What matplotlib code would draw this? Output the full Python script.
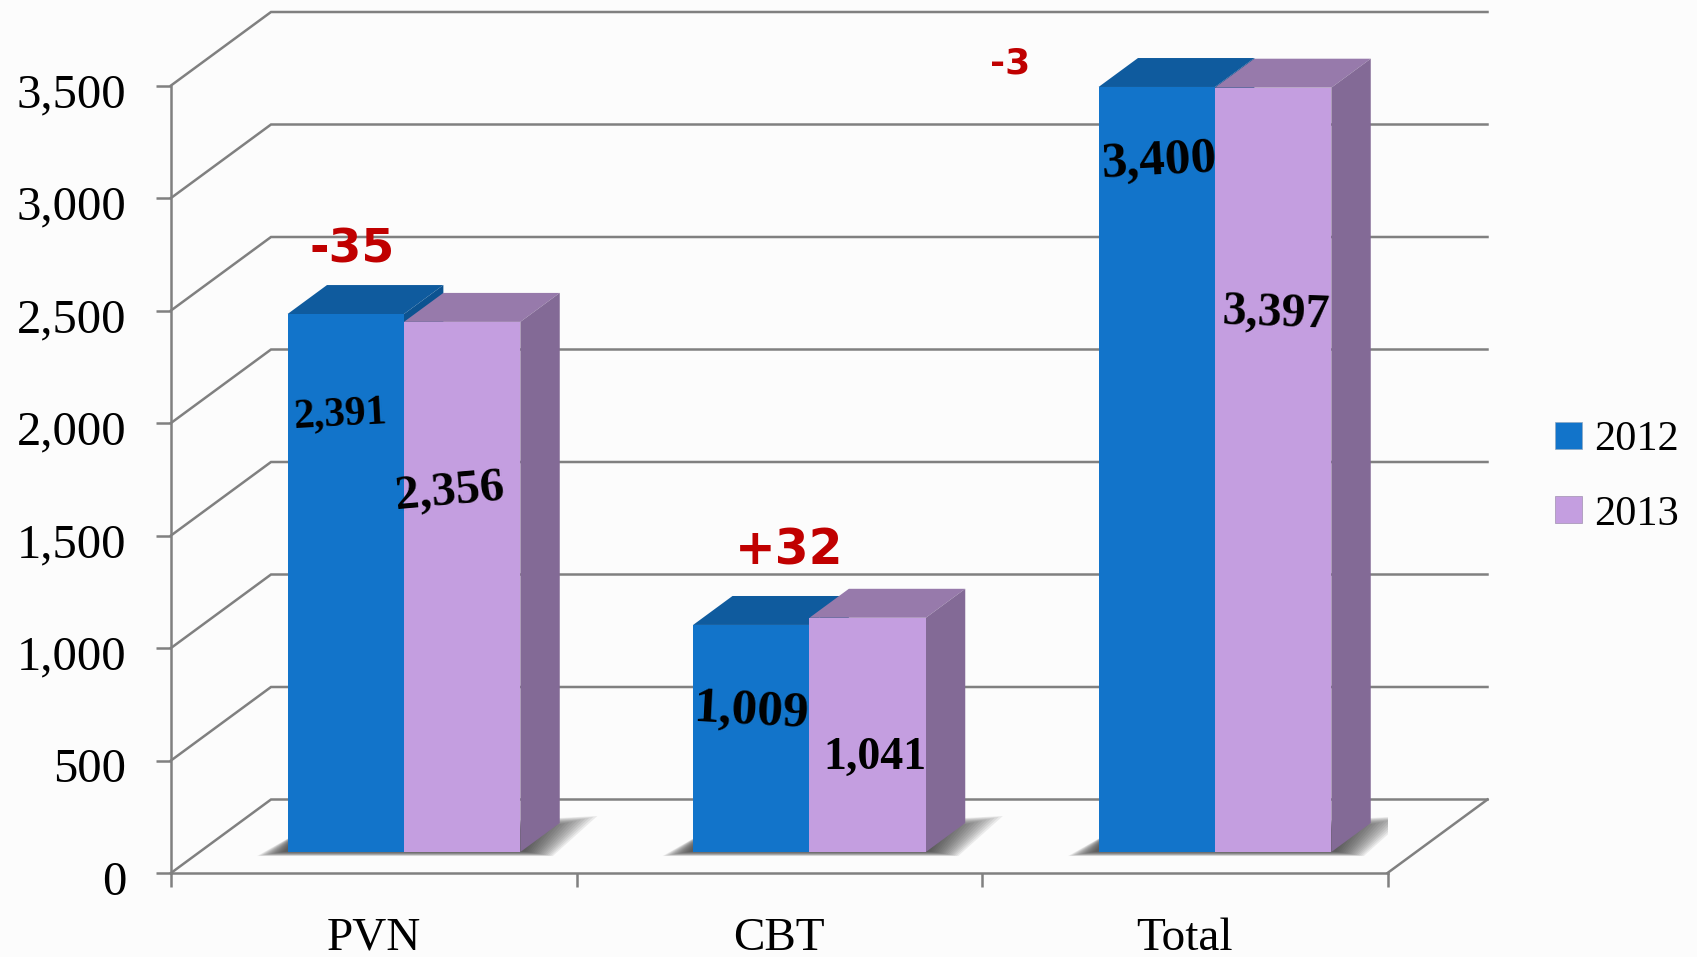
import matplotlib
matplotlib.use("Agg")
import matplotlib.pyplot as plt
from matplotlib.patches import Patch
from matplotlib.transforms import ScaledTranslation

categories = ["PVN", "CBT", "Total"]
values_2012 = [2391, 1009, 3400]
values_2013 = [2356, 1041, 3397]
labels_2012 = ["2,391", "1,009", "3,400"]
labels_2013 = ["2,356", "1,041", "3,397"]
changes = ["-35", "+32", "-3"]
y_ticks = [0, 500, 1000, 1500, 2000, 2500, 3000, 3500]
y_tick_labels = ["0", "500", "1,000", "1,500", "2,000", "2,500", "3,000", "3,500"]

SERIF = "Liberation Serif"
W, H = 1697, 957
GRID = "#808080"
BLUE, BLUE_TOP, BLUE_SIDE = "#1274ca", "#0f5b9e", "#0c5391"
PURPLE, PURPLE_TOP, PURPLE_SIDE = "#c49ee0", "#977aab", "#836a96"
RED = "#c00000"

# fake 3d: depth 1 moves a point this far right and up, in data units
DX = 100 / 405.5
DY = 73.5 / 0.225
Z_FRONT = 0.286
Z_BACK = 0.68
BAR_W = 0.287
BAR_SHIFT = 0.004


def project(x, y, z):
    return x + z * DX, y + z * DY


def box_faces(ax, left, value, top_color, side_color, zorder):
    right = left + BAR_W
    pts = [(left, value, Z_FRONT), (right, value, Z_FRONT), (right, value, Z_BACK), (left, value, Z_BACK)]
    xs, ys = zip(*[project(*p) for p in pts])
    ax.fill(xs, ys, color=top_color, lw=0, zorder=zorder, clip_on=False)
    pts = [(right, 0, Z_FRONT), (right, 0, Z_BACK), (right, value, Z_BACK), (right, value, Z_FRONT)]
    xs, ys = zip(*[project(*p) for p in pts])
    ax.fill(xs, ys, color=side_color, lw=0, zorder=zorder, clip_on=False)


def shadow(ax, left, right):
    # soft shadow on the floor, stacked see-through polygons
    base = Z_FRONT * DY
    fx = Z_FRONT * DX
    for i in range(16):
        s = i * 0.0045
        xs = [left + fx - 0.075 + s, left + fx + 0.03, right + fx + 0.19 - s * 2.2, right + fx + 0.08 - s]
        ys = [base - 18 + i * 1.3, base + 90, base + 160 - i * 4, base - 18 + i * 1.3]
        ax.fill(xs, ys, color="#333333", alpha=0.085, lw=0, zorder=2)


fig = plt.figure(figsize=(W / 100, H / 100), dpi=100, facecolor="#fcfcfc")
ax = fig.add_axes([171 / W, 1 - 873 / H, (1387.5 - 171) / W, (873 - 85.5) / H])
ax.set_facecolor("none")
ax.set_xlim(-0.5, 2.5)
ax.set_ylim(0, 3500)

# walls and floor
x0, x1 = -0.5, 2.5
for v in y_ticks:
    xa, ya = project(x0, v, 0)
    xb, yb = project(x0, v, 1)
    xc, yc = project(x1, v, 1)
    ax.plot([xa, xb, xc], [ya, yb, yc], color=GRID, lw=1.8, zorder=1, clip_on=False, solid_joinstyle="miter")
xa, ya = project(x1, 0, 0)
xb, yb = project(x1, 0, 1)
ax.plot([xa, xb], [ya, yb], color=GRID, lw=1.8, zorder=1, clip_on=False)

for i in range(len(categories)):
    left_blue = i - BAR_W + BAR_SHIFT
    left_purple = i + BAR_SHIFT
    shadow(ax, left_blue, left_purple + BAR_W)
    box_faces(ax, left_blue, values_2012[i], BLUE_TOP, BLUE_SIDE, 3)
    box_faces(ax, left_purple, values_2013[i], PURPLE_TOP, PURPLE_SIDE, 3.2)

floor = Z_FRONT * DY
centers = list(range(len(categories)))
front = Z_FRONT * DX + BAR_SHIFT
ax.bar([c - BAR_W / 2 + front for c in centers], values_2012, BAR_W, bottom=floor,
       color=BLUE, zorder=3.1, clip_on=False)
ax.bar([c + BAR_W / 2 + front for c in centers], values_2013, BAR_W, bottom=floor,
       color=PURPLE, zorder=3.3, clip_on=False)

# value labels sit by hand in the original, slightly tilted
label_y_2012 = [1945, 625, 3070]
label_y_2013 = [1603, 420, 2393]
label_dx_2012 = [-0.015, 0.0, 0.006]
label_dx_2013 = [-0.03, 0.017, 0.006]
size_2012 = [30, 37, 37]
size_2013 = [35, 33, 34.5]
tilt_2012 = [3, -3, 3]
tilt_2013 = [5, 0, -2]
for i in centers:
    ax.text(i - BAR_W / 2 + front + label_dx_2012[i], floor + label_y_2012[i], labels_2012[i],
            family=SERIF, weight="bold", fontsize=size_2012[i], rotation=tilt_2012[i],
            ha="center", va="center", color="black", zorder=5)
    ax.text(i + BAR_W / 2 + front + label_dx_2013[i], floor + label_y_2013[i], labels_2013[i],
            family=SERIF, weight="bold", fontsize=size_2013[i], rotation=tilt_2013[i],
            ha="center", va="center", color="black", zorder=5)

# change labels above the groups
change_x = [-0.054, 1.025, 1.57]
change_y = [2770, 1433, 3596]
change_size = [34, 35, 26]
for i in centers:
    ax.text(change_x[i], change_y[i], changes[i], family="DejaVu Sans", weight="bold", fontsize=change_size[i],
            color=RED, ha="center", va="center", zorder=5, clip_on=False)

for side in ["top", "right"]:
    ax.spines[side].set_visible(False)
for side in ["left", "bottom"]:
    ax.spines[side].set_color(GRID)
    ax.spines[side].set_linewidth(1.8)
    ax.spines[side].set_zorder(1.5)

ax.set_yticks(y_ticks)
ax.set_yticklabels(y_tick_labels, family=SERIF, fontsize=35, color="black", va="center")
ax.tick_params(axis="y", length=11, width=1.8, color=GRID, pad=21)
# the old style digits in the original hang lower than these
shift_down = ScaledTranslation(0, -7 / 72, fig.dpi_scale_trans)
for lab in ax.get_yticklabels():
    lab.set_transform(lab.get_transform() + shift_down)

ax.set_xticks([-0.5, 0.5, 1.5, 2.5])
ax.set_xticklabels([])
ax.tick_params(axis="x", which="major", length=10, width=1.8, color=GRID)
ax.set_xticks(centers, minor=True)
ax.set_xticklabels(categories, minor=True, family=SERIF, fontsize=34, color="black")
ax.tick_params(axis="x", which="minor", length=0, pad=32)

handles = [Patch(facecolor=BLUE, edgecolor="#8fa8c0", lw=0.5), Patch(facecolor=PURPLE, edgecolor="#a090b0", lw=0.5)]
fig.legend(handles, ["2012", "2013"], loc="center left", bbox_to_anchor=(1547 / W, 1 - 477 / H), frameon=False,
           prop={"family": SERIF, "size": 30.5}, handlelength=0.63, handleheight=0.6, handletextpad=0.29,
           labelspacing=0.85, borderpad=0.2, borderaxespad=0)

fig.savefig("out.png", dpi=100, facecolor=fig.get_facecolor())
